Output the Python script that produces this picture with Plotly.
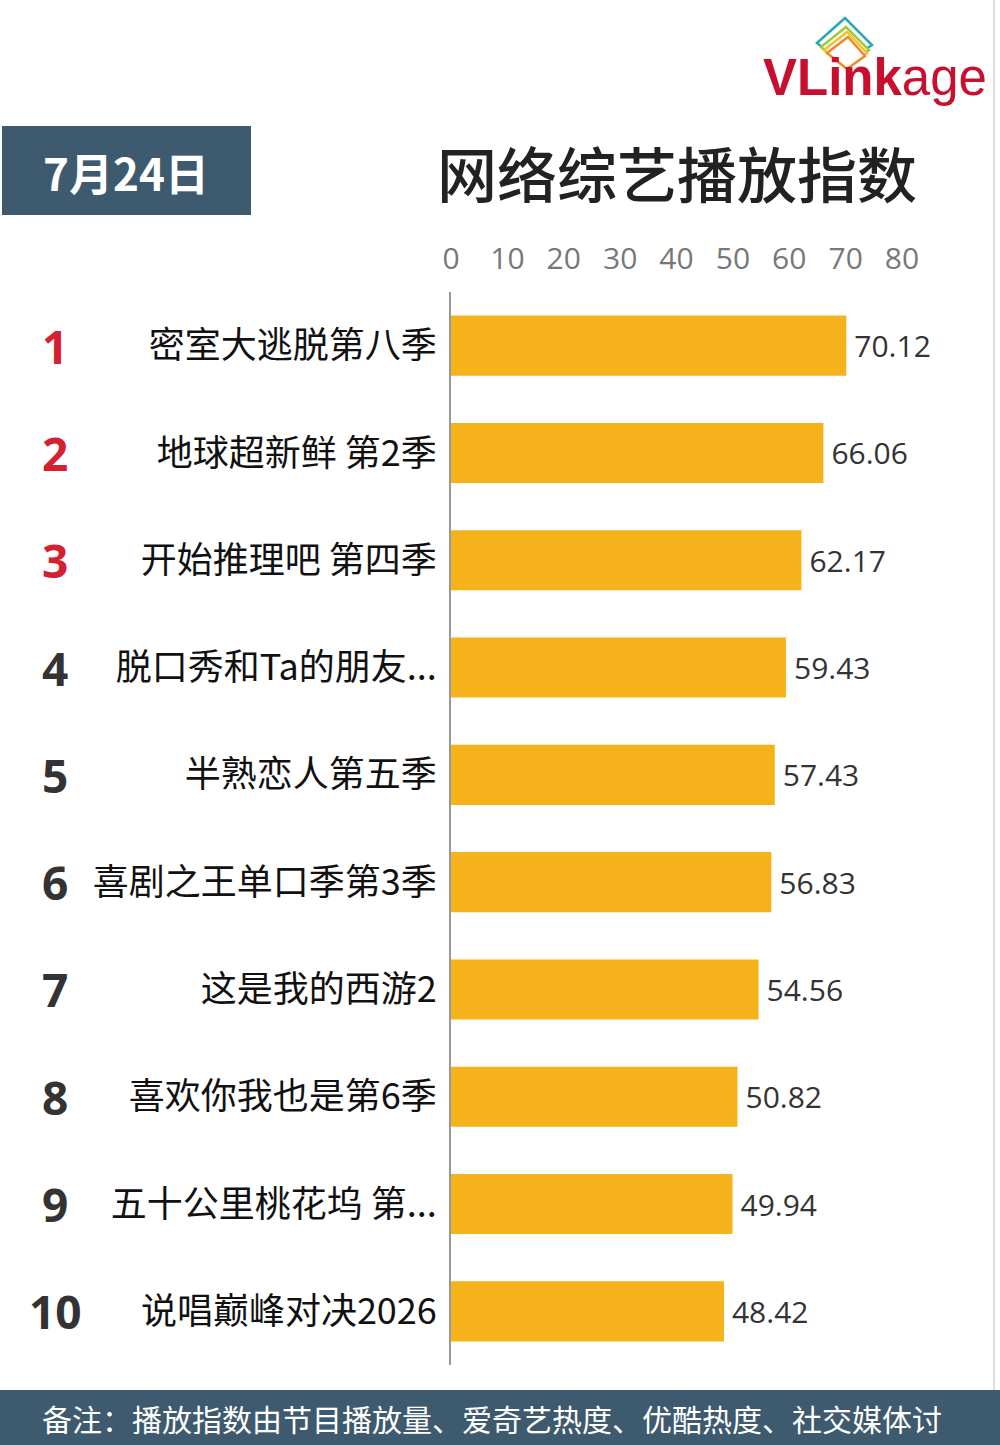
import plotly.graph_objects as go

ranks = ["1", "2", "3", "4", "5", "6", "7", "8", "9", "10"]
names = ["密室大逃脱第八季", "地球超新鲜 第2季", "开始推理吧 第四季", "脱口秀和Ta的朋友...",
         "半熟恋人第五季", "喜剧之王单口季第3季", "这是我的西游2", "喜欢你我也是第6季",
         "五十公里桃花坞 第...", "说唱巅峰对决2026"]
values = [70.12, 66.06, 62.17, 59.43, 57.43, 56.83, 54.56, 50.82, 49.94, 48.42]
tick_vals = [0, 10, 20, 30, 40, 50, 60, 70, 80]

W, H = 1000, 1445
L, R, T, B = 451, 98, 292, 80
PW = W - L - R
PH = H - T - B

def fx(px):
    return (px - L) / PW

def fy(py):
    return (H - B - py) / PH

fig = go.Figure()
fig.add_trace(go.Bar(
    x=values, y=names, orientation="h",
    marker=dict(color="#F6B21B", line=dict(width=0)),
    width=0.56,
    text=["\u2009" + f"{v:.2f}" for v in values], textposition="outside",
    textfont=dict(size=30, color="#333333", family="Open Sans, Noto Sans"),
    cliponaxis=False, hoverinfo="skip",
))

annotations = []
for i, r in enumerate(ranks):
    annotations.append(dict(
        x=fx(55), y=names[i], xref="paper", yref="y", text=f"<b>{r}</b>",
        showarrow=False, xanchor="center", yanchor="middle",
        font=dict(size=46, color="#D42030" if i < 3 else "#333333",
                  family="Open Sans, Noto Sans")))

# title
annotations.append(dict(x=fx(677), y=fy(172), xref="paper", yref="paper",
                        text="网络综艺播放指数", showarrow=False,
                        xanchor="center", yanchor="middle",
                        font=dict(size=60, color="#222222", family="Noto Sans CJK SC", weight=500)))
# date
annotations.append(dict(x=fx(126), y=fy(172), xref="paper", yref="paper",
                        text="<b>7月24日</b>", showarrow=False,
                        xanchor="center", yanchor="middle",
                        font=dict(size=44, color="#FFFFFF", family="Noto Sans CJK SC")))
# note
annotations.append(dict(x=fx(40), y=fy(1418), xref="paper", yref="paper",
                        text="备注：播放指数由节目播放量、爱奇艺热度、优酷热度、社交媒体讨",
                        showarrow=False, xanchor="left", yanchor="middle",
                        font=dict(size=30, color="#FFFFFF", family="Noto Sans CJK SC")))
annotations.append(dict(x=fx(40), y=fy(1458), xref="paper", yref="paper",
                        text="论、百度搜索加权计算得出（Source: VLinkage）",
                        showarrow=False, xanchor="left", yanchor="middle",
                        font=dict(size=30, color="#FFFFFF", family="Noto Sans CJK SC")))

shapes = []
# date box
shapes.append(dict(type="rect", xref="paper", yref="paper",
                   x0=fx(2), x1=fx(251), y0=fy(215), y1=fy(126),
                   fillcolor="#3E5A6E", line=dict(width=0), layer="below"))
# bottom band
shapes.append(dict(type="rect", xref="paper", yref="paper",
                   x0=fx(0), x1=fx(1000), y0=fy(1460), y1=fy(1390),
                   fillcolor="#3E5A6E", line=dict(width=0), layer="below"))
# right border
shapes.append(dict(type="line", xref="paper", yref="paper",
                   x0=fx(994), x1=fx(994), y0=fy(0), y1=fy(1390),
                   line=dict(color="#DDDDDD", width=2)))
# logo frames (back to front)
frames = [((817, 43), (845, 18), (872, 45), (843, 64), "#2BA8B8"),
          ((821, 47), (846, 27), (869, 50), (845, 67), "#9CCB3B"),
          ((824, 50), (847, 32), (867, 53), (846, 68), "#F2C230"),
          ((827, 53), (848, 37), (865, 56), (847, 69), "#F08A24")]
for a, b, c, d, col in frames:
    path = "M {} {} L {} {} L {} {} L {} {} Z".format(
        fx(a[0]), fy(a[1]), fx(b[0]), fy(b[1]), fx(c[0]), fy(c[1]), fx(d[0]), fy(d[1]))
    shapes.append(dict(type="path", xref="paper", yref="paper", path=path,
                       fillcolor="#FFFFFF", line=dict(color=col, width=2.5)))

# logo text
annotations.append(dict(x=fx(761), y=fy(78), xref="paper", yref="paper",
                        text="<b>VLink</b>age", showarrow=False,
                        xanchor="left", yanchor="middle",
                        font=dict(size=51, color="#C8102E", family="Liberation Sans, Arial")))

fig.update_layout(
    width=W, height=H,
    margin=dict(l=L, r=R, t=T, b=B, pad=0),
    paper_bgcolor="#FFFFFF", plot_bgcolor="#FFFFFF",
    showlegend=False,
    annotations=annotations, shapes=shapes,
    xaxis=dict(range=[0, 80], side="top", tickvals=tick_vals, ticktext=[str(t) for t in tick_vals],
               showgrid=False, zeroline=False, showline=False, ticks="",
               tickfont=dict(size=30, color="#777777", family="Open Sans, Noto Sans"),
               ticklabelstandoff=16, fixedrange=True),
    yaxis=dict(autorange="reversed", showgrid=False, zeroline=False,
               showline=True, linecolor="#999999", linewidth=2, ticks="",
               tickfont=dict(size=36, color="#111111", family="Noto Sans CJK SC"),
               ticklabelstandoff=5, fixedrange=True),
)

fig.write_html("out.html")
